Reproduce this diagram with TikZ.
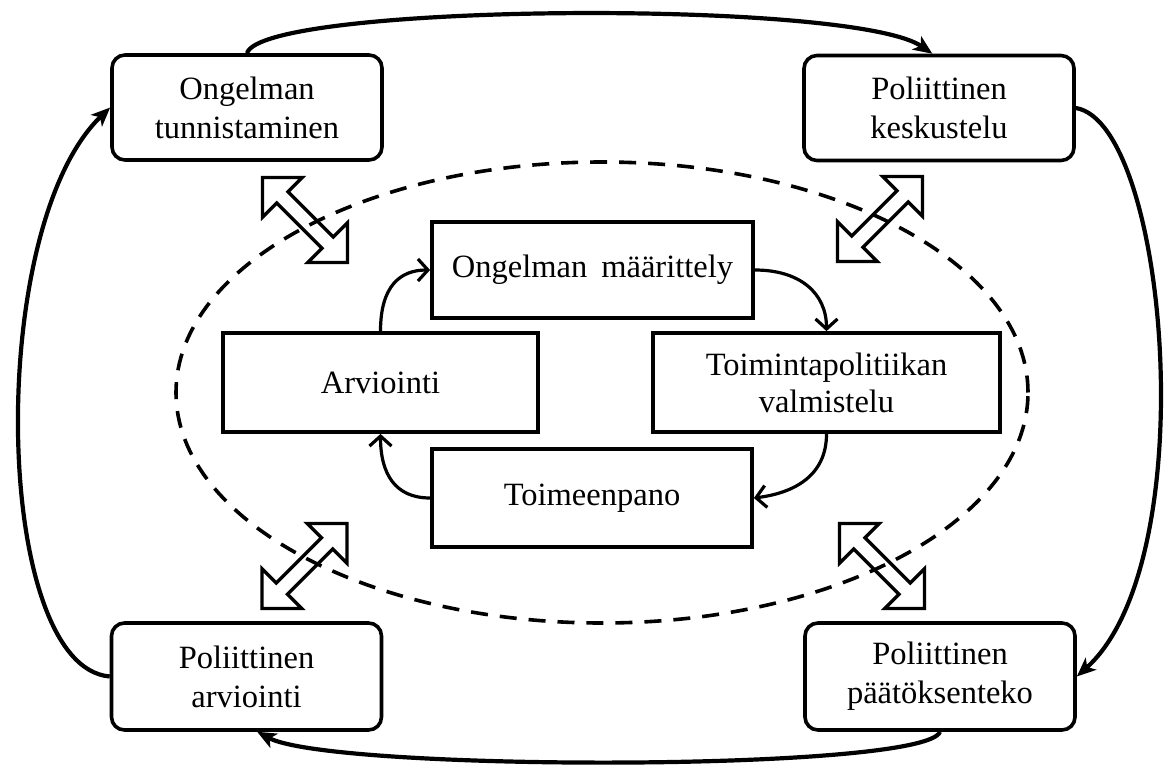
\documentclass[tikz,border=0pt]{standalone}
\usepackage{fontspec}
\setmainfont{Liberation Serif}
\usetikzlibrary{arrows.meta,shapes.geometric}
\tikzset{
  outerbox/.style={draw, line width=3.6pt, rounded corners=13pt, inner sep=0pt, align=center, font=\fontsize{32.5}{39}\selectfont},
  innerbox/.style={draw, line width=3.8pt, inner sep=0pt, align=center, font=\fontsize{32.5}{37}\selectfont},
  outerarrow/.style={line width=4.2pt, -{Stealth[length=19pt,width=16pt,inset=5pt]}},
  innerarrow/.style={line width=3.2pt, -{Straight Barb[length=10pt,width=22pt]}},
  ring/.style={draw, ellipse, line width=3.6pt, dash pattern=on 17pt off 12pt, inner sep=0pt},
  dblstyle/.style={draw, line width=3.3pt, line join=miter},
  dblarrow/.pic={\path[dblstyle] (-60,0) -- (-32,-28) -- (-32,-8) -- (32,-8) -- (32,-28) -- (60,0) -- (32,28) -- (32,8) -- (-32,8) -- (-32,28) -- cycle;}
}
\begin{document}
\begin{tikzpicture}[x=1pt,y=-1pt]
\useasboundingbox (0,0) rectangle (1166,765);
\fill[white] (0,0) rectangle (1166,765);

% dashed ring
\node[ring, minimum width=852pt, minimum height=461pt] (ring) at (602,392.5) {};

% hollow double arrows
\pic[rotate=-45] at (305,220) {dblarrow};
\pic[rotate=45] at (880,219) {dblarrow};
\pic[rotate=45] at (304.5,566) {dblarrow};
\pic[rotate=-45] at (882,566) {dblarrow};

% outer boxes
\node[outerbox, minimum width=270pt, minimum height=105pt] (tl) at (247,107.5) {Ongelman\\tunnistaminen};
\node[outerbox, minimum width=270pt, minimum height=105pt] (tr) at (939,108) {Poliittinen\\keskustelu};
\node[outerbox, minimum width=270pt, minimum height=107pt] (bl) at (246.5,676.5) {Poliittinen\\arviointi};
\node[outerbox, minimum width=270pt, minimum height=107pt] (br) at (940,676.5) {Poliittinen\\päätöksenteko};

% inner boxes
\node[innerbox, minimum width=321pt, minimum height=96pt] (om) at (592.5,270) {Ongelman\hspace{14pt}määrittely};
\node[innerbox, minimum width=315pt, minimum height=99pt] (arv) at (380.5,382.5) {Arviointi};
\node[innerbox, minimum width=347pt, minimum height=99pt] (tp) at (826.5,382.5) {Toimintapolitiikan\\valmistelu};
\node[innerbox, minimum width=320pt, minimum height=98pt] (toi) at (592,498) {Toimeenpano};

% outer cycle
\draw[outerarrow] (tl.north) .. controls +(15,-50) and +(-80,-55) .. (tr.97);
\draw[outerarrow] (tr.east) .. controls +(92,15) and +(128,-115) .. (br.east);
\draw[outerarrow] (br.south) .. controls +(-15,40) and +(75,40) .. (bl.-79);
\draw[outerarrow] (bl.west) .. controls +(-117,-10) and +(-125,120) .. (tl.west);

% inner cycle
\draw[innerarrow] (arv.north) .. controls +(0,-45) and +(-30,0) .. (om.west);
\draw[innerarrow] (om.east) .. controls +(45,0) and +(0,-38) .. (tp.north);
\draw[innerarrow] (tp.south) .. controls +(0,42) and +(40,-5) .. (toi.east);
\draw[innerarrow] (toi.west) .. controls +(-35,0) and +(0,40) .. (arv.south);
\end{tikzpicture}
\end{document}
